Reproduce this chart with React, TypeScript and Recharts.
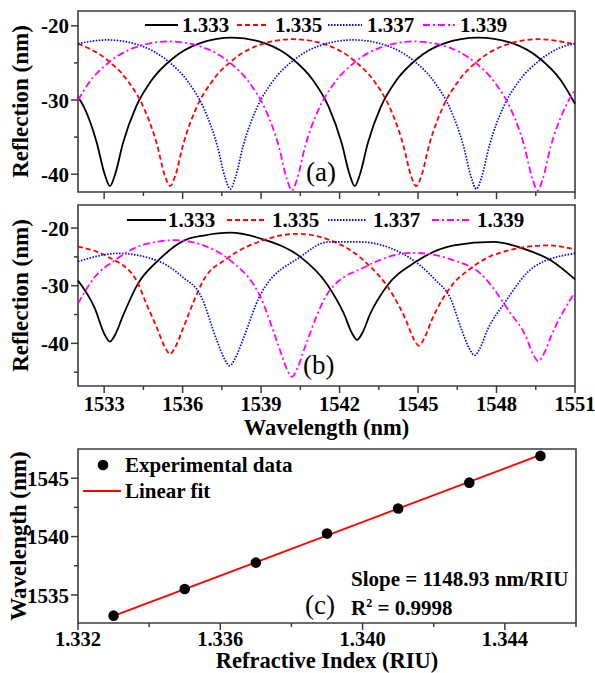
import { LineChart, Line, XAxis, YAxis, ReferenceArea, ComposedChart, Scatter } from "recharts";

const FONT = "'Liberation Serif', 'Times New Roman', serif";
const AXIS = "#3c3c3c";

// series look (same order in both panels)
const riLabels = ["1.333", "1.335", "1.337", "1.339"];
const colors = ["#000000", "#ff0000", "#0000ff", "#ff00ff"];
const dashes = ["", "5 3", "1.5 1.5", "7 3 2 3"];

// panel (a): [wavelength nm, reflection]
const a1333: [number, number][] = [
  [1532.0, -29.6], [1532.22, -30.9], [1532.72, -35.8], [1533.02, -40.0], [1533.22, -41.6], [1533.42, -40.0],
  [1533.72, -35.8], [1534.22, -30.9], [1534.82, -27.3], [1535.62, -24.4], [1536.62, -22.4], [1537.9, -21.6],
  [1539.18, -22.4], [1540.18, -24.4], [1540.98, -27.3], [1541.58, -30.9], [1542.08, -35.8], [1542.38, -40.0],
  [1542.58, -41.6], [1542.78, -40.0], [1543.08, -35.8], [1543.58, -30.9], [1544.18, -27.3], [1544.98, -24.4],
  [1545.98, -22.4], [1547.3, -21.6], [1548.65, -22.4], [1549.65, -24.4], [1550.45, -27.3], [1551.0, -30.5],
];
const a1335: [number, number][] = [
  [1532.0, -22.4], [1533.12, -24.6], [1533.92, -27.5], [1534.52, -31.1], [1535.02, -36.0], [1535.32, -40.2],
  [1535.52, -41.6], [1535.72, -40.2], [1536.02, -36.0], [1536.52, -31.1], [1537.12, -27.5], [1537.92, -24.6],
  [1538.92, -22.6], [1540.22, -21.8], [1541.53, -22.6], [1542.53, -24.6], [1543.33, -27.5], [1543.93, -31.1],
  [1544.43, -36.0], [1544.73, -40.2], [1544.93, -41.6], [1545.13, -40.2], [1545.43, -36.0], [1545.93, -31.1],
  [1546.53, -27.5], [1547.33, -24.6], [1548.33, -22.6], [1549.6, -21.8], [1551.0, -22.5],
];
const a1337: [number, number][] = [
  [1532.0, -22.4], [1533.12, -21.9], [1534.42, -22.7], [1535.42, -24.7], [1536.22, -27.6], [1536.82, -31.2],
  [1537.32, -36.1], [1537.62, -40.4], [1537.82, -42.0], [1538.02, -40.4], [1538.32, -36.1], [1538.82, -31.2],
  [1539.42, -27.6], [1540.22, -24.7], [1541.22, -22.7], [1542.52, -21.9], [1543.83, -22.7], [1544.83, -24.7],
  [1545.63, -27.6], [1546.23, -31.2], [1546.73, -36.1], [1547.03, -40.4], [1547.23, -42.0], [1547.43, -40.4],
  [1547.73, -36.1], [1548.23, -31.2], [1548.83, -27.6], [1549.63, -24.7], [1550.63, -22.7], [1551.0, -22.4],
];
const a1339: [number, number][] = [
  [1532.0, -30.0], [1532.39, -27.8], [1533.19, -24.9], [1534.19, -22.9], [1535.48, -22.1], [1536.78, -22.9],
  [1537.78, -24.9], [1538.58, -27.8], [1539.18, -31.4], [1539.68, -36.3], [1539.98, -40.6], [1540.18, -42.2],
  [1540.38, -40.6], [1540.68, -36.3], [1541.18, -31.4], [1541.78, -27.8], [1542.58, -24.9], [1543.58, -22.9],
  [1544.87, -22.1], [1546.17, -22.9], [1547.17, -24.9], [1547.97, -27.8], [1548.57, -31.4], [1549.07, -36.3],
  [1549.37, -40.6], [1549.57, -42.2], [1549.77, -40.6], [1550.07, -36.3], [1550.57, -31.4], [1551.0, -28.6],
];

// panel (b)
const b1333: [number, number][] = [
  [1532.0, -29.1], [1532.64, -33.9], [1533.02, -38.5], [1533.22, -39.7], [1533.42, -38.5], [1533.72, -35.2],
  [1534.3, -29.6], [1535.07, -25.6], [1536.09, -22.1], [1536.8, -21.3], [1537.82, -20.8], [1539.1, -22.0],
  [1540.5, -25.0], [1541.5, -29.6], [1542.17, -34.9], [1542.47, -38.2], [1542.67, -39.4], [1542.87, -38.2],
  [1543.17, -34.9], [1543.82, -30.0], [1544.9, -25.9], [1546.37, -23.0], [1547.9, -22.4], [1549.05, -23.6],
  [1550.07, -25.6], [1551.0, -28.9],
];
const b1335: [number, number][] = [
  [1532.0, -23.2], [1533.15, -25.0], [1534.2, -28.8], [1534.62, -33.2], [1535.02, -37.35], [1535.32, -40.65],
  [1535.52, -41.85], [1535.72, -40.65], [1536.02, -37.35], [1536.4, -33.0], [1536.79, -29.1], [1537.69, -25.3],
  [1539.09, -22.1], [1540.37, -21.0], [1541.58, -22.0], [1542.99, -25.9], [1544.01, -31.4], [1544.53, -35.9],
  [1544.83, -39.2], [1545.03, -40.4], [1545.23, -39.2], [1545.53, -35.9], [1546.3, -29.9], [1547.01, -27.0],
  [1547.87, -24.7], [1549.95, -23.0], [1551.0, -23.7],
];
const b1337: [number, number][] = [
  [1532.0, -25.8], [1533.54, -24.4], [1535.0, -25.6], [1536.0, -28.5], [1536.7, -31.8], [1537.3, -39.4],
  [1537.6, -42.7], [1537.8, -43.9], [1538.0, -42.7], [1538.3, -39.4], [1538.97, -31.6], [1540.5, -25.0],
  [1541.58, -22.4], [1542.73, -22.4], [1544.39, -24.4], [1545.67, -29.05], [1546.24, -32.2], [1546.66, -37.6],
  [1546.96, -40.9], [1547.16, -42.1], [1547.36, -40.9], [1547.66, -37.6], [1548.29, -33.1], [1549.44, -26.7],
  [1551.0, -24.4],
];
const b1339: [number, number][] = [
  [1532.0, -33.1], [1532.64, -28.5], [1533.41, -25.6], [1534.43, -23.0], [1535.71, -22.1], [1536.79, -23.0],
  [1537.82, -25.6], [1538.97, -31.9], [1539.68, -40.6], [1539.98, -44.4], [1540.18, -45.8], [1540.38, -44.4],
  [1540.68, -40.6], [1541.58, -31.1], [1542.99, -26.7], [1544.78, -24.3], [1546.37, -25.6], [1547.39, -27.9],
  [1548.54, -34.8], [1549.1, -38.6], [1549.4, -41.9], [1549.6, -43.1], [1549.8, -41.9], [1550.1, -38.6],
  [1551.0, -31.1],
];

const wlTicks = [1533, 1534.5, 1536, 1537.5, 1539, 1540.5, 1542, 1543.5, 1545, 1546.5, 1548, 1549.5, 1551];
const wlLabels = [1533, 1536, 1539, 1542, 1545, 1548, 1551];
const reflTicksA = [-40, -35, -30, -25, -20];
const reflTicksB = [-45, -40, -35, -30, -25, -20];
const reflLabels = [-40, -30, -20];

// panel (c)
const riu = [1.333, 1.335, 1.337, 1.339, 1.341, 1.343, 1.345];
const dipWl = [1533.23, 1535.51, 1537.77, 1540.27, 1542.4, 1544.62, 1546.91];
const fitRiu = [1.333, 1.345];
const fitWl = [1533.21, 1546.99];
const riuTicks = [1.332, 1.334, 1.336, 1.338, 1.34, 1.342, 1.344, 1.346];
const riuLabels = [1.332, 1.336, 1.34, 1.344];
const wlTicksC = [1535, 1537.5, 1540, 1542.5, 1545];
const wlLabelsC = [1535, 1540, 1545];

const toPts = (arr: [number, number][]) => arr.map(([x, y]) => ({ x, y }));
const panelA = [a1333, a1335, a1337, a1339].map(toPts);
const panelB = [b1333, b1335, b1337, b1339].map(toPts);
const scatterData = riu.map((x, i) => ({ x, y: dipWl[i] }));
const fitData = fitRiu.map((x, i) => ({ x, y: fitWl[i] }));

const isIn = (list: number[], v: number) => list.some((l) => Math.abs(l - v) < 1e-9);

function leftTick(labels: number[]) {
  return (props: any) => {
    const { x, y, payload } = props;
    const major = isIn(labels, payload.value);
    return (
      <g>
        <line x1={x} x2={x - (major ? 7 : 4)} y1={y} y2={y} stroke={AXIS} strokeWidth={1.5} />
        {major && (
          <text x={x - 9} y={y} dy="0.36em" textAnchor="end" fontFamily={FONT} fontWeight="bold" fontSize={21} fill="#000">
            {String(payload.value)}
          </text>
        )}
      </g>
    );
  };
}

function bottomTick(labels: number[], showText: boolean, fmt: (v: number) => string, gap: number) {
  return (props: any) => {
    const { x, y, payload } = props;
    const major = isIn(labels, payload.value);
    return (
      <g>
        <line x1={x} x2={x} y1={y} y2={y + (major ? 7 : 4)} stroke={AXIS} strokeWidth={1.5} />
        {showText && major && (
          <text x={x} y={y + gap} textAnchor="middle" fontFamily={FONT} fontWeight="bold" fontSize={20.5} fill="#000">
            {fmt(payload.value)}
          </text>
        )}
      </g>
    );
  };
}

function SpectraPanel({ data, yDomain, yTicks, showX, height, top }: any) {
  return (
    <LineChart width={595} height={height} margin={{ top, right: 20, bottom: 0, left: 0 }}>
      <XAxis
        dataKey="x"
        type="number"
        domain={[1532, 1551]}
        ticks={wlTicks}
        interval={0}
        height={showX ? 59 : 8}
        axisLine={false}
        tickLine={false}
        tickSize={0}
        tickMargin={0}
        tick={bottomTick(wlLabels, showX, (v) => String(v), 25)}
      />
      <YAxis
        type="number"
        domain={yDomain}
        ticks={yTicks}
        interval={0}
        width={78}
        axisLine={false}
        tickLine={false}
        tickSize={0}
        tickMargin={0}
        tick={leftTick(reflLabels)}
      />
      <ReferenceArea x1={1532} x2={1551} y1={yDomain[0]} y2={yDomain[1]} fill="none" stroke={AXIS} strokeWidth={1.6} />
      {data.map((pts: any, i: number) => (
        <Line
          key={riLabels[i]}
          data={pts}
          dataKey="y"
          type="monotone"
          dot={false}
          stroke={colors[i]}
          strokeWidth={i === 2 ? 1.7 : 1.8}
          strokeDasharray={dashes[i] || undefined}
          isAnimationActive={false}
        />
      ))}
    </LineChart>
  );
}

function LegendRow({ y, spots }: { y: number; spots: number[][] }) {
  return (
    <g>
      {riLabels.map((lab, i) => (
        <g key={lab}>
          <line x1={spots[i][0]} x2={spots[i][1]} y1={y} y2={y} stroke={colors[i]} strokeWidth={1.8} strokeDasharray={dashes[i] || undefined} />
          <text x={spots[i][2]} y={y + 7} fontFamily={FONT} fontWeight="bold" fontSize={21} fill="#000">
            {lab}
          </text>
        </g>
      ))}
    </g>
  );
}

export default function App() {
  const bold = { fontFamily: FONT, fontWeight: "bold" as const, fill: "#000" };
  return (
    <div style={{ position: "absolute", left: 0, top: 0, width: 595, height: 673, background: "#fff" }}>
      <div style={{ position: "absolute", left: 0, top: 0 }}>
        <SpectraPanel data={panelA} yDomain={[-42.4, -18]} yTicks={reflTicksA} showX={false} height={200} top={11} />
      </div>
      <div style={{ position: "absolute", left: 0, top: 195 }}>
        <SpectraPanel data={panelB} yDomain={[-47.4, -16]} yTicks={reflTicksB} showX={true} height={250} top={10} />
      </div>
      <div style={{ position: "absolute", left: 0, top: 440 }}>
        <ComposedChart width={595} height={233} margin={{ top: 9, right: 19, bottom: 0, left: 0 }}>
          <XAxis
            dataKey="x"
            type="number"
            domain={[1.332, 1.346]}
            ticks={riuTicks}
            interval={0}
            height={50}
            axisLine={false}
            tickLine={false}
            tickSize={0}
            tickMargin={0}
            tick={bottomTick(riuLabels, true, (v) => v.toFixed(3), 23)}
          />
          <YAxis
            dataKey="y"
            type="number"
            domain={[1532.6, 1547.5]}
            ticks={wlTicksC}
            interval={0}
            width={78}
            axisLine={false}
            tickLine={false}
            tickSize={0}
            tickMargin={0}
            tick={leftTick(wlLabelsC)}
          />
          <ReferenceArea x1={1.332} x2={1.346} y1={1532.6} y2={1547.5} fill="none" stroke={AXIS} strokeWidth={1.6} />
          <Line data={fitData} dataKey="y" type="linear" dot={false} stroke="#ff0000" strokeWidth={1.8} isAnimationActive={false} />
          <Scatter
            data={scatterData}
            dataKey="y"
            fill="#000"
            isAnimationActive={false}
            shape={(p: any) => <circle cx={p.cx} cy={p.cy} r={5.3} fill="#000" />}
          />
        </ComposedChart>
      </div>
      <svg width={595} height={673} style={{ position: "absolute", left: 0, top: 0, pointerEvents: "none" }}>
        <LegendRow y={25} spots={[[145, 178, 182], [237, 267, 275], [328, 362, 367], [423, 455, 460]]} />
        <LegendRow y={220} spots={[[127, 166, 168], [227, 264, 272], [328, 367, 373], [432, 470, 477]]} />
        <text x={306} y={181} fontFamily={FONT} fontSize={27} fill="#000">(a)</text>
        <text x={303} y={374} fontFamily={FONT} fontSize={27} fill="#000">(b)</text>
        <text x={305} y={614} fontFamily={FONT} fontSize={27} fill="#000">(c)</text>
        <text transform="translate(28,101.5) rotate(-90)" textAnchor="middle" fontSize={23} {...bold}>Reflection (nm)</text>
        <text transform="translate(28,295.5) rotate(-90)" textAnchor="middle" fontSize={23} {...bold}>Reflection (nm)</text>
        <text transform="translate(26,536) rotate(-90)" textAnchor="middle" fontSize={23} {...bold}>Wavelength (nm)</text>
        <text x={326.5} y={435} textAnchor="middle" fontSize={22.5} {...bold}>Wavelength (nm)</text>
        <text x={327} y={668} textAnchor="middle" fontSize={22.5} {...bold}>Refractive Index (RIU)</text>
        <circle cx={103} cy={465} r={5.3} fill="#000" />
        <text x={125} y={472} fontSize={21} {...bold}>Experimental data</text>
        <line x1={83} x2={121} y1={491} y2={491} stroke="#ff0000" strokeWidth={1.8} />
        <text x={125} y={498} fontSize={21} {...bold}>Linear fit</text>
        <text x={351} y={586} fontSize={21} {...bold}>Slope = 1148.93 nm/RIU</text>
        <text x={351} y={615} fontSize={21} {...bold}>
          R<tspan dy={-8} fontSize={12}>2</tspan>
          <tspan dy={8}> = 0.9998</tspan>
        </text>
      </svg>
    </div>
  );
}
